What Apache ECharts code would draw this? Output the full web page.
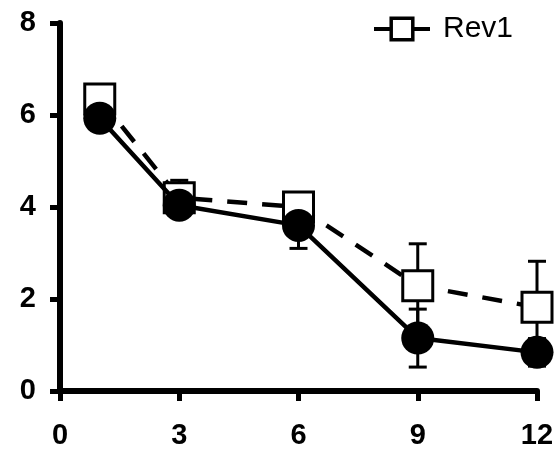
<!DOCTYPE html>
<html>
<head>
<meta charset="utf-8">
<script src="https://cdn.jsdelivr.net/npm/echarts@6/dist/echarts.min.js"></script>
<style>
  html, body { margin: 0; padding: 0; background: #fff; }
  #chart { width: 559px; height: 453px; }
</style>
</head>
<body>
<div id="chart"></div>
<script>
// time points (x)
var xValues = [1, 3, 6, 9, 12];
// filled circles, solid line
var ctrlMean = [5.93, 4.04, 3.6, 1.15, 0.84];
var ctrlErr  = [0.2, 0.2, 0.5, 0.63, 0.3];
// open squares, dashed line
var rev1Mean = [6.35, 4.2, 4.0, 2.29, 1.82];
var rev1Err  = [0.25, 0.38, 0.25, 0.91, 1.0];
var xTicks = [0, 3, 6, 9, 12];
var yTicks = [0, 2, 4, 6, 8];

var fontFam = 'Liberation Sans, Arial, sans-serif';

function pairs(xs, ys) {
    return xs.map(function (x, i) { return [x, ys[i]]; });
}
function errRows(xs, m, e) {
    return xs.map(function (x, i) { return [x, m[i] - e[i], m[i] + e[i]]; });
}

// vertical error bar with caps
function errorBar(params, api) {
    var lo = api.coord([api.value(0), api.value(1)]);
    var hi = api.coord([api.value(0), api.value(2)]);
    var half = 9;
    var style = { stroke: '#000', lineWidth: 3 };
    return {
        type: 'group',
        children: [
            { type: 'line', shape: { x1: lo[0], y1: lo[1], x2: hi[0], y2: hi[1] }, style: style },
            { type: 'line', shape: { x1: hi[0] - half, y1: hi[1], x2: hi[0] + half, y2: hi[1] }, style: style },
            { type: 'line', shape: { x1: lo[0] - half, y1: lo[1], x2: lo[0] + half, y2: lo[1] }, style: style }
        ]
    };
}

var chart = echarts.init(document.getElementById('chart'));

var axisCommon = {
    type: 'value',
    splitLine: { show: false },
    axisLine: { show: true, lineStyle: { color: '#000', width: 6 } },
    axisTick: { show: true, length: 10, lineStyle: { color: '#000', width: 5 } },
    axisLabel: {
        color: '#000',
        fontFamily: fontFam,
        fontWeight: 'bold',
        fontSize: 29
    }
};

var option = {
    animation: false,
    backgroundColor: '#fff',
    grid: { left: 60, right: 22, top: 23, bottom: 62 },
    legend: {
        data: ['Rev1'],
        left: 367,
        top: 9,
        itemWidth: 56,
        itemHeight: 27,
        itemGap: 10,
        lineStyle: { width: 4, type: 'solid', color: '#000' },
        itemStyle: { borderWidth: 3.5, borderColor: '#000', color: '#fff' },
        textStyle: { fontFamily: fontFam, fontSize: 30, color: '#000', padding: [0, 0, 0, 8] }
    },
    xAxis: Object.assign({}, axisCommon, {
        min: xTicks[0],
        max: xTicks[xTicks.length - 1],
        interval: 3,
        axisLabel: Object.assign({}, axisCommon.axisLabel, { margin: 30 })
    }),
    yAxis: Object.assign({}, axisCommon, {
        min: yTicks[0],
        max: yTicks[yTicks.length - 1],
        interval: 2,
        axisLabel: Object.assign({}, axisCommon.axisLabel, { margin: 24 })
    }),
    series: [
        {
            name: 'Rev1 err',
            type: 'custom',
            renderItem: errorBar,
            data: errRows(xValues, rev1Mean, rev1Err),
            z: 1,
            silent: true
        },
        {
            name: 'Ctrl err',
            type: 'custom',
            renderItem: errorBar,
            data: errRows(xValues, ctrlMean, ctrlErr),
            z: 1,
            silent: true
        },
        {
            name: 'Rev1',
            type: 'line',
            data: pairs(xValues, rev1Mean),
            symbol: 'rect',
            symbolSize: 30,
            lineStyle: { color: '#000', width: 4.5, type: [20, 15] },
            itemStyle: { color: '#fff', borderColor: '#000', borderWidth: 3 },
            z: 2
        },
        {
            name: 'Ctrl',
            type: 'line',
            data: pairs(xValues, ctrlMean),
            symbol: 'circle',
            symbolSize: 33,
            lineStyle: { color: '#000', width: 4.5 },
            itemStyle: { color: '#000', borderColor: '#000', borderWidth: 0 },
            z: 3
        }
    ]
};

chart.setOption(option);
</script>
</body>
</html>
